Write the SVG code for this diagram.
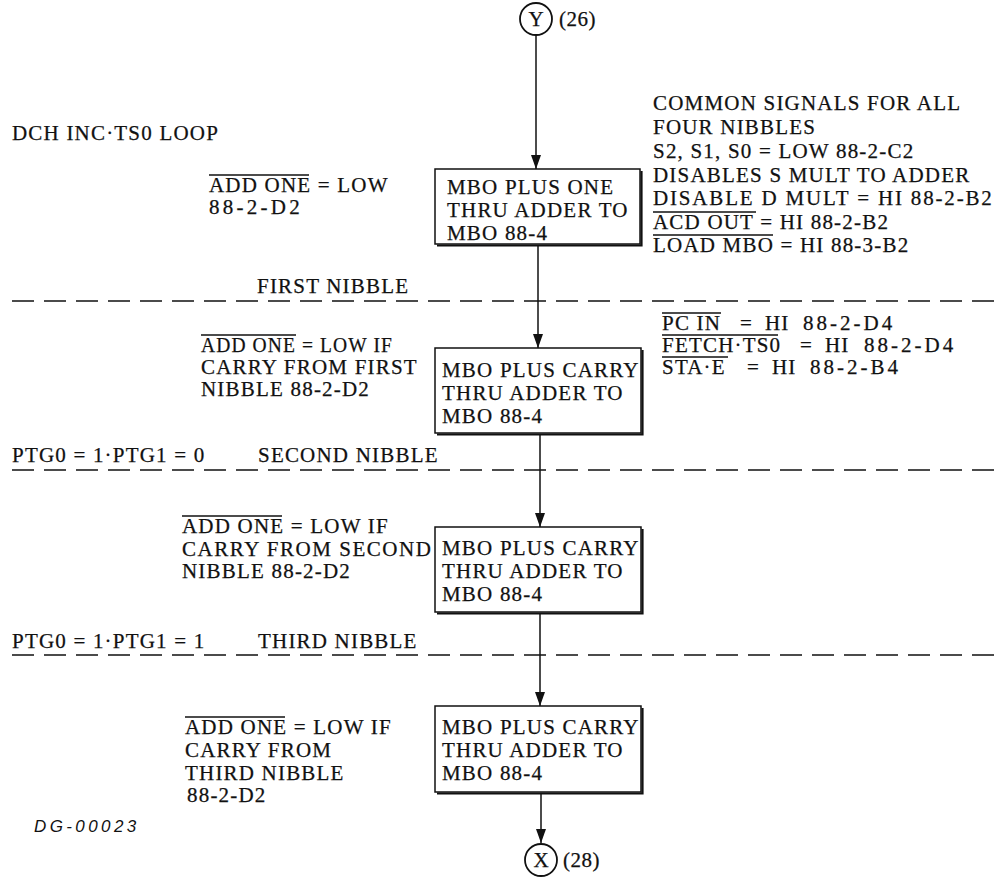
<svg xmlns="http://www.w3.org/2000/svg" width="997" height="883" viewBox="0 0 997 883">
<defs>
<style>
.t{font-family:"Liberation Serif","Times New Roman",serif;font-size:21px;letter-spacing:1.2px;fill:#111;stroke:#111;stroke-width:0.25}
.w{letter-spacing:3px}
.ol{stroke:#111;stroke-width:1.3}
.it{font-family:"Liberation Sans",Arial,sans-serif;font-style:italic;font-size:17px;letter-spacing:3.4px;fill:#111}
.box{fill:#fff;stroke:#111;stroke-width:1.5}
.sh{fill:none;stroke:#111;stroke-width:2.2}
.dash{stroke:#111;stroke-width:1.3;stroke-dasharray:22 10;fill:none}
.conn{stroke:#111;stroke-width:1.5;fill:none;marker-end:url(#arr)}
.circ{fill:#fff;stroke:#111;stroke-width:1.8}
</style>
<marker id="arr" viewBox="0 0 14 10" refX="14" refY="5" markerWidth="14" markerHeight="10" markerUnits="userSpaceOnUse" orient="auto">
<path d="M0,0 L14,5 L0,10 z" fill="#111"/>
</marker>
</defs>
<rect width="997" height="883" fill="#fff"/>

<g id="dividers">
<line class="dash" x1="12" y1="301" x2="997" y2="301"/>
<line class="dash" x1="12" y1="470" x2="997" y2="470"/>
<line class="dash" x1="12" y1="655" x2="997" y2="655"/>
</g>

<g id="connectors">
<path class="conn" d="M536,35 V169"/>
<path class="conn" d="M538,246 V348"/>
<path class="conn" d="M540,435 V527"/>
<path class="conn" d="M540,614 V706"/>
<path class="conn" d="M541,794 V843"/>
</g>

<g id="node-y">
<circle class="circ" cx="536" cy="19" r="16"/>
<text class="t" x="536" y="26" text-anchor="middle" style="letter-spacing:0">Y</text>
<text class="t" x="559" y="26" style="letter-spacing:0.5px">(26)</text>
</g>

<g id="node-box1">
<rect class="box" x="435" y="169" width="205" height="75"/>
<polyline class="sh" points="641.5,171 641.5,245.5 437,245.5"/>
<text class="t" x="447" y="194">MBO PLUS ONE</text>
<text class="t" x="447" y="217">THRU ADDER TO</text>
<text class="t" x="447" y="240">MBO 88-4</text>
</g>

<g id="node-box2">
<rect class="box" x="435" y="348" width="206" height="85"/>
<polyline class="sh" points="642.5,350 642.5,434.5 437,434.5"/>
<text class="t" x="442" y="377">MBO PLUS CARRY</text>
<text class="t" x="442" y="400">THRU ADDER TO</text>
<text class="t" x="442" y="423">MBO 88-4</text>
</g>

<g id="node-box3">
<rect class="box" x="435" y="527" width="206" height="85"/>
<polyline class="sh" points="642.5,529 642.5,613.5 437,613.5"/>
<text class="t" x="442" y="555">MBO PLUS CARRY</text>
<text class="t" x="442" y="578">THRU ADDER TO</text>
<text class="t" x="442" y="601">MBO 88-4</text>
</g>

<g id="node-box4">
<rect class="box" x="435" y="706" width="206" height="86"/>
<polyline class="sh" points="642.5,708 642.5,793.5 437,793.5"/>
<text class="t" x="442" y="734">MBO PLUS CARRY</text>
<text class="t" x="442" y="757">THRU ADDER TO</text>
<text class="t" x="442" y="780">MBO 88-4</text>
</g>

<g id="node-x">
<circle class="circ" cx="541" cy="860" r="16"/>
<text class="t" x="541" y="867" text-anchor="middle" style="letter-spacing:0">X</text>
<text class="t" x="563" y="867" style="letter-spacing:0.5px">(28)</text>
</g>

<g id="labels-top">
<text class="t" x="12" y="140">DCH INC·TS0 LOOP</text>
<text class="t" x="209" y="192">ADD ONE = LOW</text>
<line class="ol" x1="209" y1="175" x2="309" y2="175"/>
<text class="t" x="209" y="214" textLength="92" lengthAdjust="spacing">88-2-D2</text>
<text class="t" x="653" y="110">COMMON SIGNALS FOR ALL</text>
<text class="t" x="653" y="134">FOUR NIBBLES</text>
<text class="t" x="653" y="158">S2, S1, S0 = LOW 88-2-C2</text>
<text class="t" x="653" y="182">DISABLES S MULT TO ADDER</text>
<text class="t" x="653" y="205" textLength="340" lengthAdjust="spacing">DISABLE D MULT = HI 88-2-B2</text>
<text class="t" x="653" y="229">ACD OUT = HI 88-2-B2</text>
<line class="ol" x1="653" y1="212" x2="756" y2="212"/>
<text class="t" x="653" y="252">LOAD MBO = HI 88-3-B2</text>
<line class="ol" x1="653" y1="235" x2="773" y2="235"/>
</g>

<g id="labels-first">
<text class="t" x="257" y="293">FIRST NIBBLE</text>
<text class="t" y="330"><tspan x="662">PC IN</tspan><tspan x="740">=</tspan><tspan x="765">HI</tspan><tspan class="w" x="803">88-2-D4</tspan></text>
<line class="ol" x1="662" y1="313" x2="721" y2="313"/>
<text class="t" y="352"><tspan x="662">FETCH·TS0</tspan><tspan x="800">=</tspan><tspan x="825">HI</tspan><tspan class="w" x="864">88-2-D4</tspan></text>
<line class="ol" x1="662" y1="335" x2="778" y2="335"/>
<text class="t" y="374"><tspan x="662">STA·E</tspan><tspan x="747">=</tspan><tspan x="772">HI</tspan><tspan class="w" x="810">88-2-B4</tspan></text>
<line class="ol" x1="662" y1="357" x2="728" y2="357"/>
<text class="t" x="201" y="352" textLength="192" lengthAdjust="spacingAndGlyphs">ADD ONE = LOW IF</text>
<line class="ol" x1="201" y1="335" x2="296" y2="335"/>
<text class="t" x="201" y="374">CARRY FROM FIRST</text>
<text class="t" x="201" y="396">NIBBLE 88-2-D2</text>
</g>

<g id="labels-second">
<text class="t" x="12" y="462">PTG0 = 1·PTG1 = 0</text>
<text class="t" x="258" y="462">SECOND NIBBLE</text>
<text class="t" x="182" y="533">ADD ONE = LOW IF</text>
<line class="ol" x1="182" y1="516" x2="282" y2="516"/>
<text class="t" x="182" y="556" textLength="250" lengthAdjust="spacing">CARRY FROM SECOND</text>
<text class="t" x="182" y="578">NIBBLE 88-2-D2</text>
</g>

<g id="labels-third">
<text class="t" x="12" y="648">PTG0 = 1·PTG1 = 1</text>
<text class="t" x="258" y="648">THIRD NIBBLE</text>
<text class="t" x="185" y="734">ADD ONE = LOW IF</text>
<line class="ol" x1="185" y1="717" x2="285" y2="717"/>
<text class="t" x="185" y="757">CARRY FROM</text>
<text class="t" x="185" y="780">THIRD NIBBLE</text>
<text class="t" x="187" y="802">88-2-D2</text>
</g>

<text class="it" x="34" y="832">DG-00023</text>
</svg>
